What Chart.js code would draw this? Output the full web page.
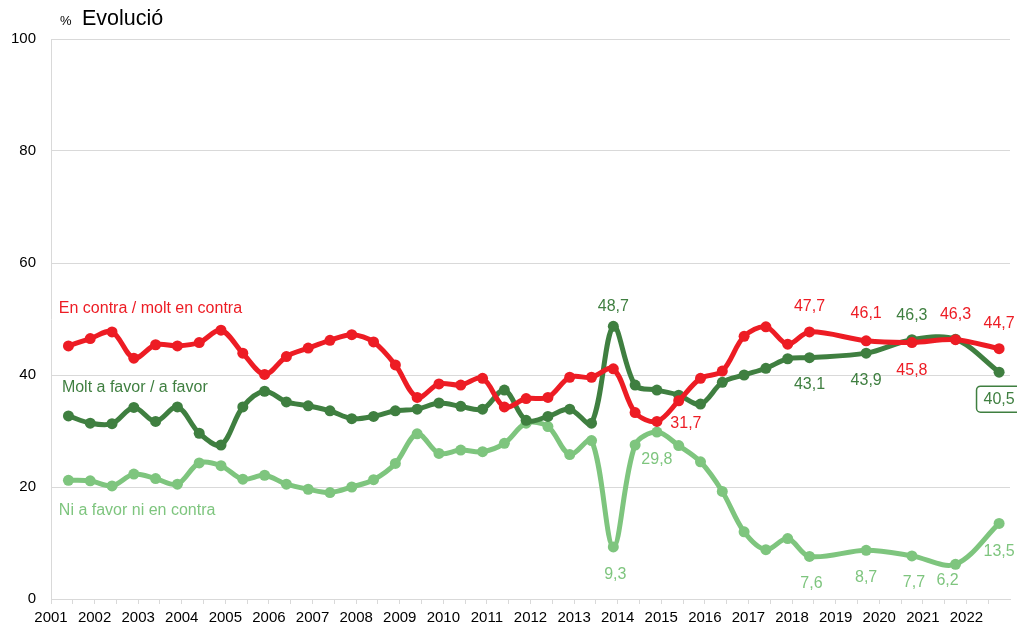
<!DOCTYPE html>
<html>
<head>
<meta charset="utf-8">
<script src="https://cdn.jsdelivr.net/npm/chart.js@4/dist/chart.umd.min.js"></script>
<style>
  html, body { margin: 0; padding: 0; background: #fff; }
  #wrap { width: 1017px; height: 626px; }
</style>
</head>
<body>
<div id="wrap"><canvas id="chart" width="1017" height="626"></canvas></div>
<script>
// survey waves (decimal year)
const waves = [
  2001.4, 2001.9, 2002.4, 2002.9, 2003.4, 2003.9, 2004.4, 2004.9, 2005.4, 2005.9,
  2006.4, 2006.9, 2007.4, 2007.9, 2008.4, 2008.9, 2009.4, 2009.9, 2010.4, 2010.9,
  2011.4, 2011.9, 2012.4, 2012.9, 2013.4, 2013.9, 2014.4, 2014.9, 2015.4, 2015.9,
  2016.4, 2016.9, 2017.4, 2017.9, 2018.4, 2019.7, 2020.75, 2021.75, 2022.75
];
const enContra = [
  45.2, 46.5, 47.7, 43.0, 45.4, 45.2, 45.8, 48.0, 43.9, 40.1,
  43.3, 44.8, 46.2, 47.2, 45.9, 41.8, 36.0, 38.4, 38.2, 39.4,
  34.3, 35.8, 36.0, 39.6, 39.6, 41.1, 33.3, 31.7, 35.4, 39.4,
  40.7, 46.9, 48.6, 45.5, 47.7, 46.1, 45.8, 46.3, 44.7
];
const aFavor = [
  32.7, 31.4, 31.3, 34.2, 31.7, 34.3, 29.6, 27.5, 34.3, 37.1,
  35.2, 34.5, 33.6, 32.2, 32.6, 33.6, 33.9, 35.0, 34.4, 33.9,
  37.3, 31.9, 32.6, 33.9, 31.4, 48.7, 38.2, 37.3, 36.4, 34.8,
  38.7, 40.0, 41.2, 42.9, 43.1, 43.9, 46.3, 46.4, 40.5
];
const niNi = [
  21.2, 21.1, 20.2, 22.3, 21.5, 20.5, 24.3, 23.8, 21.4, 22.1,
  20.5, 19.6, 19.0, 20.0, 21.3, 24.2, 29.5, 26.0, 26.6, 26.3,
  27.8, 31.4, 30.8, 25.8, 28.3, 9.3, 27.5, 29.8, 27.4, 24.5,
  19.2, 12.0, 8.8, 10.8, 7.6, 8.7, 7.7, 6.2, 13.5
];
const yTicks = [0, 20, 40, 60, 80, 100];
const xTicks = [];
for (let y = 2001; y <= 2022.5; y += 0.5) xTicks.push(y);

const RED = '#ED1C24';
const DARK = '#3F7F40';
const LIGHT = '#7EC57E';
const FONT = '"Liberation Sans", Arial, sans-serif';

// which points get a value label: [index, dx, dy, boxed]
const labelSpots = [
  { data: enContra, color: RED, spots: [[27, 29, 2], [34, 0, -25], [35, 0, -27], [36, 0, 28], [37, 0, -25], [38, 0, -25]] },
  { data: aFavor, color: DARK, spots: [[25, 0, -20], [34, 0, 27], [35, 0, 27], [36, 0, -24], [38, 0, 27, true]] },
  { data: niNi, color: LIGHT, spots: [[25, 2, 28], [27, 0, 27], [34, 2, 27], [35, 0, 27], [36, 2, 27], [37, -8, 16], [38, 0, 28]] }
];
const seriesNames = [
  { text: 'En contra / molt en contra', color: RED, x: 2001.18, y: 51.8 },
  { text: 'Molt a favor / a favor', color: DARK, x: 2001.25, y: 37.7 },
  { text: 'Ni a favor ni en contra', color: LIGHT, x: 2001.18, y: 15.7 }
];

const fmt = v => v.toFixed(1).replace('.', ',');

const textPlugin = {
  id: 'texts',
  afterDatasetsDraw(chart) {
    const ctx = chart.ctx;
    const xs = chart.scales.x, ys = chart.scales.y;
    ctx.save();
    ctx.font = '16px ' + FONT;
    ctx.textBaseline = 'middle';
    seriesNames.forEach(s => {
      ctx.fillStyle = s.color;
      ctx.textAlign = 'left';
      ctx.fillText(s.text, xs.getPixelForValue(s.x), ys.getPixelForValue(s.y));
    });
    labelSpots.forEach(g => {
      g.spots.forEach(([i, dx, dy, boxed]) => {
        const px = xs.getPixelForValue(waves[i]) + dx;
        const py = ys.getPixelForValue(g.data[i]) + dy;
        const txt = fmt(g.data[i]);
        ctx.textAlign = 'center';
        if (boxed) {
          const w = ctx.measureText(txt).width + 14;
          ctx.beginPath();
          ctx.roundRect(px - w / 2, py - 13, w, 26, 4);
          ctx.fillStyle = '#fff';
          ctx.fill();
          ctx.lineWidth = 1.5;
          ctx.strokeStyle = g.color;
          ctx.stroke();
        }
        ctx.fillStyle = g.color;
        ctx.fillText(txt, px, py);
      });
    });
    // title
    ctx.fillStyle = '#000';
    ctx.textAlign = 'left';
    ctx.textBaseline = 'alphabetic';
    ctx.font = '13px ' + FONT;
    ctx.fillText('%', 60, 25);
    ctx.font = '21.5px ' + FONT;
    ctx.fillText('Evolució', 82, 25);
    ctx.restore();
  }
};

const line = (data, color) => ({
  data: waves.map((w, i) => ({ x: w, y: data[i] })),
  borderColor: color,
  backgroundColor: color,
  borderWidth: 5,
  pointRadius: 5.5,
  pointBorderWidth: 0,
  pointBackgroundColor: color,
  tension: 0.33,
  fill: false
});

new Chart(document.getElementById('chart'), {
  type: 'line',
  data: {
    datasets: [line(enContra, RED), line(aFavor, DARK), line(niNi, LIGHT)]
  },
  options: {
    responsive: false,
    animation: false,
    layout: { padding: { top: 39, right: 7, left: 0, bottom: 0 } },
    plugins: { legend: { display: false }, tooltip: { enabled: false } },
    scales: {
      x: {
        type: 'linear',
        min: 2001,
        max: 2023,
        afterBuildTicks: s => { s.ticks = xTicks.map(v => ({ value: v })); },
        afterFit: s => { s.height = 27; },
        grid: { drawOnChartArea: false, color: '#d9d9d9', tickLength: 5 },
        border: { color: '#d9d9d9' },
        ticks: {
          autoSkip: false,
          maxRotation: 0,
          padding: 5,
          color: '#000',
          font: { family: FONT, size: 15 },
          callback: v => Number.isInteger(v) ? String(v) : ''
        }
      },
      y: {
        min: 0,
        max: 100,
        afterBuildTicks: s => { s.ticks = yTicks.map(v => ({ value: v })); },
        afterFit: s => { s.width = 51; },
        grid: { color: '#d9d9d9', drawTicks: false },
        border: { color: '#d9d9d9' },
        ticks: {
          padding: 15,
          color: '#000',
          font: { family: FONT, size: 15 }
        }
      }
    }
  },
  plugins: [textPlugin]
});
</script>
</body>
</html>
